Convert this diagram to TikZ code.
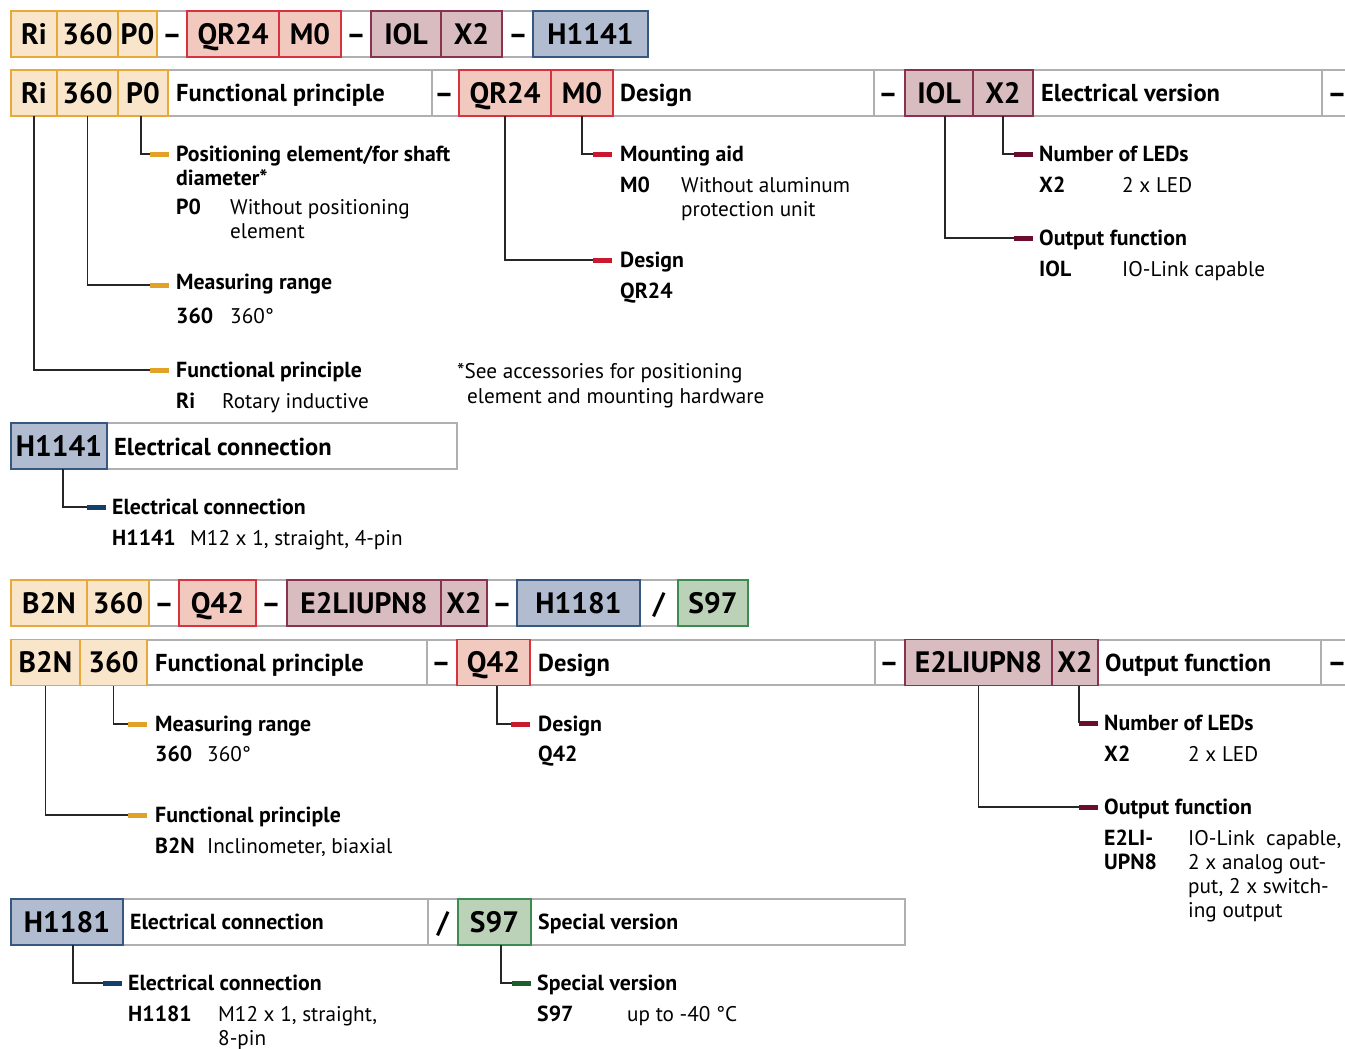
\documentclass[tikz,border=0pt]{standalone}
\usepackage{fontspec}
\setmainfont{PT Sans}
\definecolor{Ofl}{HTML}{F9E5C9}\definecolor{Odr}{HTML}{E9A93A}\definecolor{Omk}{HTML}{E2A227}
\definecolor{Rfl}{HTML}{F2C9BE}\definecolor{Rdr}{HTML}{D7323F}\definecolor{Rmk}{HTML}{C8192E}
\definecolor{Mfl}{HTML}{D8BCC0}\definecolor{Mdr}{HTML}{8A3350}\definecolor{Mmk}{HTML}{6A0D31}
\definecolor{Bfl}{HTML}{B1BCD1}\definecolor{Bdr}{HTML}{36587F}\definecolor{Bmk}{HTML}{12406B}
\definecolor{Gfl}{HTML}{BCD2B8}\definecolor{Gdr}{HTML}{3D8B4E}\definecolor{Gmk}{HTML}{1C5E2C}
\definecolor{lgray}{HTML}{B0B0B0}
\newcommand\fcode{\fontsize{29.5}{31}\selectfont\bfseries}
\newcommand\fhead{\fontsize{24.5}{27}\selectfont\bfseries}
\newcommand\fdt{\fontsize{21.8}{24}\selectfont\bfseries}
\newcommand\fdr{\fontsize{21.2}{24}\selectfont}
\newcommand\mkbox[6]{\node[#2, minimum width={#4-#3}] (#1) at ({(#3+#4)/2},#5) {#6};}
\begin{document}
\begin{tikzpicture}[x=1pt,y=-1pt,
  gline/.style={draw=lgray, line width=1.4},
  cb/.style={inner sep=0, outer sep=0, line width=1.3, minimum height=46, font=\fcode, text height=20.5, text depth=0},
  bO/.style={cb, draw=Odr, fill=Ofl},
  bR/.style={cb, draw=Rdr, fill=Rfl},
  bM/.style={cb, draw=Mdr, fill=Mfl},
  bB/.style={cb, draw=Bdr, fill=Bfl},
  bG/.style={cb, draw=Gdr, fill=Gfl},
  dsh/.style={inner sep=0, font=\fcode, text height=20.5, text depth=0},
  hd/.style={anchor=base west, inner sep=0, font=\fhead},
  hs/.style={anchor=base west, inner sep=0, font=\fdt},
  dt/.style={anchor=base west, inner sep=0, font=\fdt},
  dr/.style={anchor=base west, inner sep=0, font=\fdr},
  mk/.style={inner sep=0, outer sep=0, minimum width=19, minimum height=5},
  mO/.style={mk, fill=Omk}, mR/.style={mk, fill=Rmk}, mM/.style={mk, fill=Mmk},
  mB/.style={mk, fill=Bmk}, mG/.style={mk, fill=Gmk},
  conn/.style={draw=black!85, line width=1.1}
]
\useasboundingbox (0,0) rectangle (1345,1049);

% ---------------- Row 1 ----------------
\draw[gline] (11,11) -- (648,11) (11,57) -- (648,57);
\mkbox{ra}{bO}{11}{57}{34}{Ri}
\mkbox{rb}{bO}{57}{118}{34}{360}
\mkbox{rc}{bO}{118}{157}{34}{P0}
\node[dsh] (rd1) at (172,34) {–};
\mkbox{rd}{bR}{187}{279}{34}{QR24}
\mkbox{re}{bR}{279}{341}{34}{M0}
\node[dsh] (rd2) at (356,34) {–};
\mkbox{rf}{bM}{371}{441}{34}{IOL}
\mkbox{rg}{bM}{441}{502}{34}{X2}
\node[dsh] (rd3) at (518,34) {–};
\mkbox{rh}{bB}{533}{648}{34}{H1141}

% ---------------- Row 2 ----------------
\draw[gline] (11,70) -- (1345,70) (11,116) -- (1345,116)
  (432,70) -- (432,116) (874,70) -- (874,116) (1322,70) -- (1322,116);
\mkbox{sa}{bO}{11}{57}{93}{Ri}
\mkbox{sb}{bO}{57}{118}{93}{360}
\mkbox{sc}{bO}{118}{168}{93}{P0}
\node[hd] (sh1) at (176,101.5) {Functional principle};
\node[dsh] (sd1) at (444,93) {–};
\mkbox{sd}{bR}{459}{551}{93}{QR24}
\mkbox{se}{bR}{551}{613}{93}{M0}
\node[hd] (sh2) at (620,101.5) {Design};
\node[dsh] (sd2) at (888,93) {–};
\mkbox{sf}{bM}{905}{973}{93}{IOL}
\mkbox{sg}{bM}{973}{1033}{93}{X2}
\node[hd] (sh3) at (1041,101.5) {Electrical version};
\node[dsh] (sd3) at (1337,93) {–};

% markers top
\node[mO] (m1) at (159.5,154) {};
\node[mO] (m2) at (159.5,285) {};
\node[mO] (m3) at (159.5,370) {};
\node[mR] (m4) at (602.5,154) {};
\node[mR] (m5) at (602.5,260) {};
\node[mM] (m6) at (1023.5,154) {};
\node[mM] (m7) at (1023.5,238) {};

\draw[conn] ([xshift=-2]sc.south) |- (m1.west);
\draw[conn] (sb.south) |- (m2.west);
\draw[conn] (sa.south) |- (m3.west);
\draw[conn] (se.south) |- (m4.west);
\draw[conn] (sd.south) |- (m5.west);
\draw[conn] (sg.south) |- (m6.west);
\draw[conn] ([xshift=6]sf.south) |- (m7.west);

% descriptions top
\node[dt] (a1) at (176,161.5) {Positioning element/for shaft};
\node[dt] (a2) at (176,185.5) {diameter*};
\node[dt] (a3) at (176,214) {P0};
\node[dr] (a4) at (230,214) {Without positioning};
\node[dr] (a5) at (230,238) {element};
\node[dt] (b1) at (176,289.5) {Measuring range};
\node[dt] (b2) at (176,323) {360};
\node[dr] (b3) at (230,323) {360°};
\node[dt] (c1) at (176,377.5) {Functional principle};
\node[dt] (c2) at (176,408) {Ri};
\node[dr] (c3) at (222,408) {Rotary inductive};
\node[dt] (e1) at (620,161.5) {Mounting aid};
\node[dt] (e2) at (620,192) {M0};
\node[dr] (e3) at (681,192) {Without aluminum};
\node[dr] (e4) at (681,216) {protection unit};
\node[dt] (f1) at (620,267.5) {Design};
\node[dt] (f2) at (620,298) {QR24};
\node[dt] (g1) at (1039,161.5) {Number of LEDs};
\node[dt] (g2) at (1039,192) {X2};
\node[dr] (g3) at (1122,192) {2 x LED};
\node[dt] (h1) at (1039,245.5) {Output function};
\node[dt] (h2) at (1039,276) {IOL};
\node[dr] (h3) at (1122,276) {IO-Link capable};
\node[dr] (fn1) at (457,378) {*See accessories for positioning};
\node[dr] (fn2) at (467,403) {element and mounting hardware};

% H1141 row
\draw[gline] (11,423) rectangle (457,469);
\mkbox{ta}{bB}{11}{107}{446}{H1141}
\node[hd] (th) at (114,455) {Electrical connection};
\node[mB] (m8) at (96.5,507) {};
\draw[conn] ([xshift=4]ta.south) |- (m8.west);
\node[dt] (i1) at (112,514.5) {Electrical connection};
\node[dt] (i2) at (112,545) {H1141};
\node[dr] (i3) at (190,545) {M12 x 1, straight, 4-pin};

% ---------------- Row 3 ----------------
\draw[gline] (11,580) -- (748,580) (11,626) -- (748,626);
\mkbox{ua}{bO}{11}{87}{603}{B2N}
\mkbox{ub}{bO}{87}{149}{603}{360}
\node[dsh] (ud1) at (164,603) {–};
\mkbox{uc}{bR}{179}{256}{603}{Q42}
\node[dsh] (ud2) at (271,603) {–};
\mkbox{ud}{bM}{287}{441}{603}{E2LIUPN8}
\mkbox{ue}{bM}{441}{487}{603}{X2}
\node[dsh] (ud3) at (502,603) {–};
\mkbox{uf}{bB}{517}{640}{603}{H1181}
\node[dsh] (ud4) at (659,603) {/};
\mkbox{ug}{bG}{678}{748}{603}{S97}

% ---------------- Row 4 ----------------
\draw[gline] (11,640) -- (1345,640) (11,685) -- (1345,685)
  (427,640) -- (427,685) (875,640) -- (875,685) (1321,640) -- (1321,685);
\mkbox{va}{bO}{11}{80}{662.5}{B2N}
\mkbox{vb}{bO}{80}{147}{662.5}{360}
\node[hd] (vh1) at (155,671) {Functional principle};
\node[dsh] (vd1) at (441,662.5) {–};
\mkbox{vc}{bR}{457}{530}{662.5}{Q42}
\node[hd] (vh2) at (538,671) {Design};
\node[dsh] (vd2) at (889,662.5) {–};
\mkbox{vd}{bM}{905}{1052}{662.5}{E2LIUPN8}
\mkbox{ve}{bM}{1052}{1098}{662.5}{X2}
\node[hd] (vh3) at (1105,671) {Output function};
\node[dsh] (vd3) at (1337,662.5) {–};

% markers bottom
\node[mO] (n1) at (137.5,724) {};
\node[mO] (n2) at (137.5,815) {};
\node[mR] (n3) at (520.5,724) {};
\node[mM] (n4) at (1088.5,723) {};
\node[mM] (n5) at (1088.5,807) {};
\draw[conn] (vb.south) |- (n1.west);
\draw[conn] (va.south) |- (n2.west);
\draw[conn] ([xshift=3.5]vc.south) |- (n3.west);
\draw[conn] ([xshift=4]ve.south) |- (n4.west);
\draw[conn] (vd.south) |- (n5.west);

\node[dt] (p1) at (155,731.5) {Measuring range};
\node[dt] (p2) at (155,761) {360};
\node[dr] (p3) at (207,761) {360°};
\node[dt] (q1) at (155,822.5) {Functional principle};
\node[dt] (q2) at (155,853) {B2N};
\node[dr] (q3) at (207,853) {Inclinometer, biaxial};
\node[dt] (w1) at (538,731.5) {Design};
\node[dt] (w2) at (538,761) {Q42};
\node[dt] (x1) at (1104,730.5) {Number of LEDs};
\node[dt] (x2) at (1104,761) {X2};
\node[dr] (x3) at (1188,761) {2 x LED};
\node[dt] (y1) at (1104,814.5) {Output function};
\node[dt] (y2) at (1104,845) {E2LI-};
\node[dt] (y3) at (1104,869) {UPN8};
\node[dr] (y4) at (1188,845) {IO-Link\ \ capable,};
\node[dr] (y5) at (1188,869) {2 x analog out-};
\node[dr] (y6) at (1188,893) {put, 2 x switch-};
\node[dr] (y7) at (1188,917) {ing output};

% ---------------- Row 5 ----------------
\draw[gline] (11,899) rectangle (905,945) (428,899) -- (428,945);
\mkbox{za}{bB}{11}{123}{922}{H1181}
\node[hs] (zh1) at (130,929.5) {Electrical connection};
\node[dsh] (zd) at (443,922) {/};
\mkbox{zb}{bG}{458}{531}{922}{S97}
\node[hs] (zh2) at (538,929.5) {Special version};
\node[mB] (n6) at (112.5,983) {};
\node[mG] (n7) at (521.5,983) {};
\draw[conn] ([xshift=6]za.south) |- (n6.west);
\draw[conn] ([xshift=6.5]zb.south) |- (n7.west);
\node[dt] (k1) at (128,990.5) {Electrical connection};
\node[dt] (k2) at (128,1021) {H1181};
\node[dr] (k3) at (218,1021) {M12 x 1, straight,};
\node[dr] (k4) at (218,1045) {8-pin};
\node[dt] (l1) at (537,990.5) {Special version};
\node[dt] (l2) at (537,1021) {S97};
\node[dr] (l3) at (627,1021) {up to -40 °C};
\end{tikzpicture}
\end{document}
